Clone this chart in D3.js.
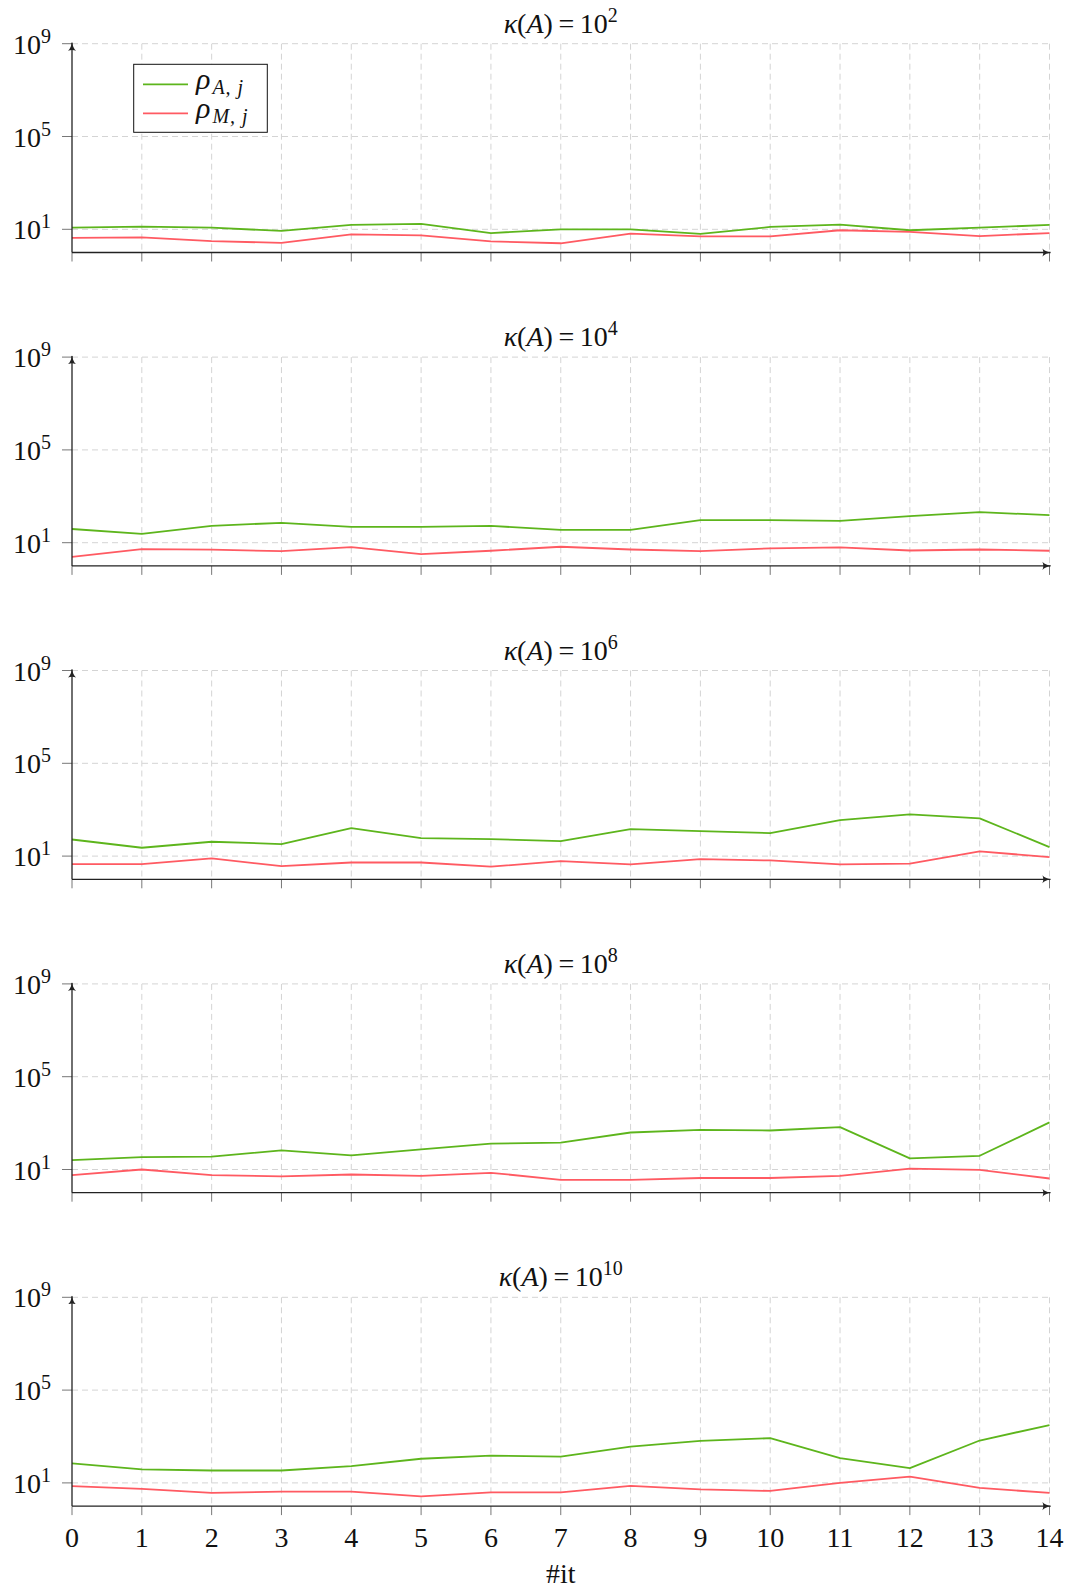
<!DOCTYPE html>
<html>
<head>
<meta charset="utf-8">
<script src="https://cdn.jsdelivr.net/npm/d3@7"></script>
<style>
  body { margin: 0; background: #fff; }
  svg text { font-family: "Liberation Serif", "DejaVu Serif", serif; fill: #111; }
</style>
</head>
<body>
<div class="chart"></div>
<script>
// iterations on the x axis
const iterations = [0, 1, 2, 3, 4, 5, 6, 7, 8, 9, 10, 11, 12, 13, 14];
// exponent of the condition number for each panel
const kappaExponents = [2, 4, 6, 8, 10];
// y tick exponents
const yTickExponents = [1, 5, 9];

// values, one pair of series per panel
const rhoA_k2  = [11.8, 13.1, 11.8, 8.5, 15.4, 17.1, 6.9, 10, 10, 6.3, 12.6, 16.0, 9.1, 11.8, 15.4];
const rhoM_k2  = [4.3, 4.5, 3.1, 2.6, 6.1, 5.5, 3.0, 2.5, 6.5, 5.0, 5.0, 9.1, 7.7, 5.1, 6.9];
const rhoA_k4  = [39, 23.8, 53, 72, 48, 48, 53, 35.6, 35.6, 93.5, 93.5, 87.5, 140, 208, 154];
const rhoM_k4  = [2.46, 5.3, 5.0, 4.3, 6.5, 3.2, 4.5, 6.7, 5.1, 4.3, 5.7, 6.3, 4.6, 5.1, 4.5];
const rhoA_k6  = [52, 22.9, 41.6, 33, 162, 60, 54, 44, 146, 120, 98, 358, 630, 423, 24.4];
const rhoM_k6  = [4.5, 4.5, 7.9, 3.7, 5.3, 5.3, 3.5, 6.1, 4.4, 7.4, 6.5, 4.4, 4.7, 15.9, 9.1];
const rhoA_k8  = [25.5, 34.3, 35.6, 67, 40.6, 74, 131, 144, 393, 513, 480, 670, 30, 39, 1070];
const rhoM_k8  = [5.7, 10, 5.7, 5.1, 6.1, 5.3, 7.2, 3.6, 3.6, 4.3, 4.3, 5.3, 11.0, 9.7, 4.1];
const rhoA_k10 = [69, 38, 34.3, 34.3, 53, 110, 149, 135, 367, 649, 847, 118, 43.5, 670, 3110];
const rhoM_k10 = [7.2, 5.5, 3.7, 4.2, 4.2, 2.6, 3.9, 3.9, 7.4, 5.3, 4.5, 10, 18.8, 6.1, 3.7];

const seriesA = [rhoA_k2, rhoA_k4, rhoA_k6, rhoA_k8, rhoA_k10];
const seriesM = [rhoM_k2, rhoM_k4, rhoM_k6, rhoM_k8, rhoM_k10];

const width = 1070, height = 1590;
const margin = { left: 72, right: 20.5 };
const panelTop = 43.7, panelHeight = 208.8, panelStep = 313.4;
const green = "#5db51c", red = "#ff5a62";

const svg = d3.select(".chart").append("svg")
  .attr("width", width)
  .attr("height", height);

// arrow heads for the axes
svg.append("defs").append("marker")
  .attr("id", "arrow")
  .attr("viewBox", "0 -5 10 10")
  .attr("refX", 9).attr("refY", 0)
  .attr("markerWidth", 9).attr("markerHeight", 9)
  .attr("markerUnits", "userSpaceOnUse")
  .attr("orient", "auto")
  .append("path")
  .attr("d", "M0,-4.5 Q3,-1 10,0 Q3,1 0,4.5 Q2,0 0,-4.5Z")
  .attr("fill", "#222");

const x = d3.scaleLinear()
  .domain([iterations[0], iterations[iterations.length - 1]])
  .range([margin.left, width - margin.right]);

kappaExponents.forEach((k, i) => {
  const top = panelTop + i * panelStep;
  const bottom = top + panelHeight;
  const y = d3.scaleLog().domain([1, 1e9]).range([bottom, top]);
  const g = svg.append("g").attr("class", "panel");

  //horizontal grid
  g.selectAll(".hgrid").data(yTickExponents).join("line")
    .attr("x1", x(0)).attr("x2", x(14))
    .attr("y1", d => y(Math.pow(10, d))).attr("y2", d => y(Math.pow(10, d)))
    .attr("stroke", "#d4d4d4").attr("stroke-width", 1)
    .attr("stroke-dasharray", "6,4");

  //vertical grid
  g.selectAll(".vgrid").data(iterations.slice(1)).join("line")
    .attr("x1", d => x(d)).attr("x2", d => x(d))
    .attr("y1", top).attr("y2", bottom)
    .attr("stroke", "#d4d4d4").attr("stroke-width", 1)
    .attr("stroke-dasharray", "6,4");

  //x ticks (outside)
  g.selectAll(".xtick").data(iterations).join("line")
    .attr("x1", d => x(d)).attr("x2", d => x(d))
    .attr("y1", bottom).attr("y2", bottom + 9)
    .attr("stroke", "#777").attr("stroke-width", 1);

  //y ticks
  g.selectAll(".ytick").data(yTickExponents).join("line")
    .attr("x1", x(0) - 10).attr("x2", x(0))
    .attr("y1", d => y(Math.pow(10, d))).attr("y2", d => y(Math.pow(10, d)))
    .attr("stroke", "#777").attr("stroke-width", 1);

  //y tick labels 10^n
  const yl = g.selectAll(".ylabel").data(yTickExponents).join("text")
    .attr("x", 51)
    .attr("y", d => y(Math.pow(10, d)) + 10)
    .attr("text-anchor", "end")
    .attr("font-size", 28);
  yl.append("tspan").text("10");
  yl.append("tspan").attr("dy", -11).attr("font-size", 20).text(d => d);

  //series lines
  const line = d3.line()
    .x((d, j) => x(iterations[j]))
    .y(d => y(d));
  g.append("path").datum(seriesA[i])
    .attr("fill", "none").attr("stroke", green).attr("stroke-width", 1.8)
    .attr("stroke-linejoin", "round").attr("d", line);
  g.append("path").datum(seriesM[i])
    .attr("fill", "none").attr("stroke", red).attr("stroke-width", 1.8)
    .attr("stroke-linejoin", "round").attr("d", line);

  //axes with arrows
  g.append("line")
    .attr("x1", x(0)).attr("x2", x(14) + 1)
    .attr("y1", bottom).attr("y2", bottom)
    .attr("stroke", "#222").attr("stroke-width", 1.3)
    .attr("marker-end", "url(#arrow)");
  g.append("line")
    .attr("x1", x(0)).attr("x2", x(0))
    .attr("y1", bottom).attr("y2", top - 1)
    .attr("stroke", "#222").attr("stroke-width", 1.3)
    .attr("marker-end", "url(#arrow)");

  //title
  const t = g.append("text")
    .attr("x", (x(0) + x(14)) / 2)
    .attr("y", top - 11)
    .attr("text-anchor", "middle")
    .attr("font-size", 28);
  t.append("tspan").attr("font-style", "italic").text("κ");
  t.append("tspan").text("(");
  t.append("tspan").attr("font-style", "italic").text("A");
  t.append("tspan").text(")\u2009=\u200910");
  t.append("tspan").attr("dy", -11).attr("font-size", 20).text(k);

  //x tick labels only under the last panel
  if (i === kappaExponents.length - 1) {
    g.selectAll(".xlabel").data(iterations).join("text")
      .attr("x", d => x(d))
      .attr("y", bottom + 41)
      .attr("text-anchor", "middle")
      .attr("font-size", 28)
      .text(d => d);
    g.append("text")
      .attr("x", (x(0) + x(14)) / 2)
      .attr("y", bottom + 77)
      .attr("text-anchor", "middle")
      .attr("font-size", 28)
      .text("#it");
  }
});

//legend (first panel)
const legend = svg.append("g").attr("class", "legend");
legend.append("rect")
  .attr("x", 133.7).attr("y", 64.3)
  .attr("width", 133.6).attr("height", 68)
  .attr("fill", "#fff").attr("stroke", "#111").attr("stroke-width", 1);
const legendItems = [
  { sub: "A, j", color: green },
  { sub: "M, j", color: red }
];
legendItems.forEach((d, j) => {
  const ly = 84.3 + j * 29;
  legend.append("line")
    .attr("x1", 143).attr("x2", 188)
    .attr("y1", ly).attr("y2", ly)
    .attr("stroke", d.color).attr("stroke-width", 1.8);
  const lt = legend.append("text")
    .attr("x", 196).attr("y", ly + 5)
    .attr("font-size", 30);
  lt.append("tspan").attr("font-style", "italic").text("ρ");
  lt.append("tspan").attr("font-style", "italic").attr("font-size", 20)
    .attr("dx", 2).attr("dy", 5).attr("letter-spacing", 1).text(d.sub);
});
</script>
</body>
</html>
